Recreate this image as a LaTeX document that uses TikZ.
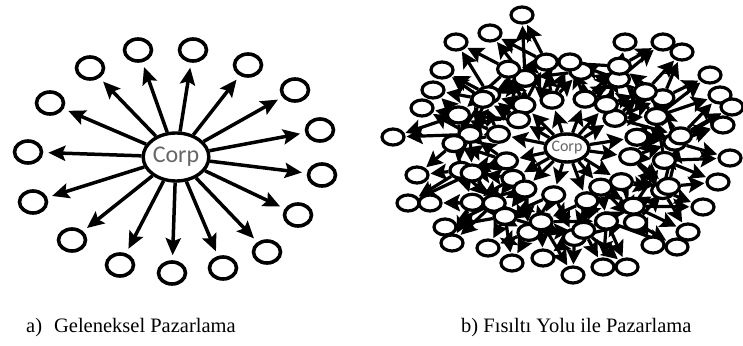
\documentclass[tikz,border=0pt]{standalone}
\usepackage{fontspec}
\setmainfont{Liberation Serif}
\newfontfamily\corpfont{Carlito}
\usetikzlibrary{shapes.geometric, arrows.meta, backgrounds}

\tikzset{
    bubble/.style={draw, ellipse, fill=white, line width=3.6pt, minimum width=27pt, minimum height=22pt, inner sep=0pt},
    smallbubble/.style={bubble, line width=3.2pt, minimum width=22pt, minimum height=16pt},
    corpbox/.style={draw, ellipse, fill=white, line width=3.4pt, inner sep=0pt, text=black!60},
    spoke/.style={-{Stealth[length=17pt, width=15pt, inset=3pt]}, line width=3.5pt, shorten >=5pt},
    buzz/.style={-{Stealth[length=16pt, width=16pt, inset=3pt]}, line width=3.2pt, shorten >=1pt},
    caption/.style={font=\fontsize{20.5}{24}\selectfont, anchor=base west, inner sep=0pt},
}

\begin{document}
\begin{tikzpicture}[x=1pt, y=-1pt]
    \useasboundingbox (0,0) rectangle (743,345);

    % a) one sender, every arrow leaves the centre
    \node[corpbox, minimum width=56pt, minimum height=48pt, font=\corpfont\fontsize{24}{24}\selectfont] (corpa) at (176,157) {Corp};
    \foreach \x/\y [count=\i] in {138/50, 193/50, 248/65, 295/90, 320/130, 322/175, 298/215, 267/252,
                                  223/268, 172/273, 120/265, 72/240, 33/202, 28/152, 50/103, 90/68}{
        \node[bubble] (fan\i) at (\x,\y) {};
        \draw[spoke] (corpa) -- (fan\i);
    }

    % b) the message is passed on from person to person
    \node[corpbox, minimum width=43pt, minimum height=28pt, font=\corpfont\fontsize{16}{16}\selectfont] (corpb) at (567,148) {Corp};

    % first ring, fed straight from the centre
    \foreach \k in {0,...,15}{
        \pgfmathsetmacro\ang{\k*22.5+11.25+5*sin(97*\k)}
        \pgfmathsetmacro\f{1+0.08*cos(151*\k)}
        \node[smallbubble] (inner\k) at ({567+66*\f*cos(\ang)}, {148-51*\f*sin(\ang)}) {};
        \begin{scope}[on background layer]
            \draw[buzz] (corpb) -- (inner\k);
        \end{scope}
    }

    % second ring, each node fed by several nodes of the first ring
    \foreach \j in {0,...,31}{
        \pgfmathsetmacro\ang{\j*11.25+4*cos(211*\j)}
        \pgfmathsetmacro\f{1+0.09*sin(137*\j)}
        \node[smallbubble] (mid\j) at ({567+108*\f*cos(\ang)}, {148-84*\f*sin(\ang)}) {};
    }
    \begin{scope}[on background layer]
        \foreach \k in {0,...,15}{
            \foreach \d in {-1,0,1,2}{
                \pgfmathtruncatemacro\j{mod(2*\k+\d+32,32)}
                \draw[buzz] (inner\k) -- (mid\j);
            }
        }
        % and passed on sideways within the ring
        \foreach \j in {0,...,31}{
            \pgfmathtruncatemacro\n{mod(\j+3,32)}
            \draw[buzz] (mid\j) -- (mid\n);
        }
    \end{scope}

    % outer ring, x/y/feeding node of the second ring
    \foreach \x/\y/\s [count=\i] in {522/15/9, 490/33/10, 456/42/11, 625/42/6, 663/42/5, 682/52/4,
                                     442/70/12, 710/75/3, 433/90/13, 720/95/2, 422/108/14, 732/107/1,
                                     723/125/0, 393/137/15, 730/158/31, 417/175/17, 718/182/30, 408/203/18,
                                     430/203/19, 703/207/29, 445/227/20, 452/243/20, 688/232/28, 677/247/27,
                                     488/248/21, 512/263/22, 543/258/23, 573/275/24, 603/267/25, 627/267/26,
                                     653/245/27}{
        \node[smallbubble] (outer\i) at (\x,\y) {};
        \pgfmathtruncatemacro\t{mod(\s+2*mod(\i,2)-1+32,32)}
        \begin{scope}[on background layer]
            \draw[buzz] (mid\s) -- (outer\i);
            \draw[buzz] (mid\t) -- (outer\i);
        \end{scope}
    }

    % captions
    \node[caption] (capa) at (26,332) {a)\hspace{12pt}Geleneksel Pazarlama};
    \node[caption] (capb) at (461,332) {b) Fısıltı Yolu ile Pazarlama};
\end{tikzpicture}
\end{document}
